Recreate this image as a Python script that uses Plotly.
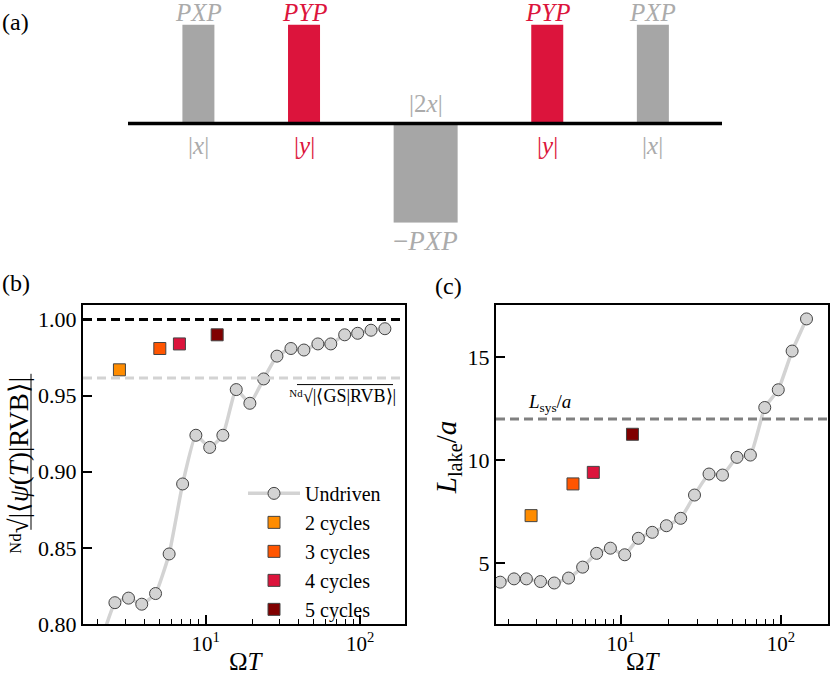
import plotly.graph_objects as go

# =============================
# DATA
# =============================
# panel (a): pulse sequence
pulse_pos = [2.2, 5.5, 9.3, 13.1, 16.4]
pulse_width = [1, 1, 2, 1, 1]
pulse_amp = [1, 1, -1, 1, 1]
pulse_colors = ["#A6A6A6", "#DC143C", "#A6A6A6", "#DC143C", "#A6A6A6"]
top_labels = ["<i>PXP</i>", "<i>PYP</i>", "\u2212<i>PXP</i>", "<i>PYP</i>", "<i>PXP</i>"]
low_labels = ["|<i>x</i>|", "|<i>y</i>|", "|2<i>x</i>|", "|<i>y</i>|", "|<i>x</i>|"]

# panels (b) and (c): undriven sweep
omega_T = [1.77, 2.16, 2.58, 3.16, 3.85, 4.73, 5.79, 7.08, 8.63, 10.6, 12.9, 15.75,
           19.3, 23.7, 28.9, 35.6, 43.2, 53.2, 64.5, 79.3, 96.3, 117.5, 144.5]
overlap_root = [0.775, 0.793, 0.814, 0.817, 0.813, 0.820, 0.846, 0.892, 0.924, 0.916,
                0.924, 0.954, 0.945, 0.961, 0.976, 0.981, 0.980, 0.984, 0.984, 0.990,
                0.991, 0.993, 0.994]
lake_len = [4.08, 4.24, 4.24, 4.11, 4.04, 4.28, 4.81, 5.48, 5.73, 5.41, 6.21, 6.50,
            6.82, 7.18, 8.31, 9.33, 9.28, 10.14, 10.25, 12.56, 13.42, 15.30, 16.86]

# driven protocols
cycle_names = ["2 cycles", "3 cycles", "4 cycles", "5 cycles"]
cycle_omega_T = [2.76, 5.04, 6.75, 11.85]
cycle_overlap = [0.967, 0.981, 0.984, 0.990]
cycle_lake = [7.31, 8.85, 9.41, 11.26]
cycle_colors = ["#FF8C00", "#FF5500", "#DC143C", "#800000"]

gs_overlap_root = 0.9616
L_sys = 12

FONT = "Liberation Serif"
W, H = 830, 688

fig = go.Figure()


def ann(x, y, text, size, angle=0, color="black", xanchor="center"):
    # x, y in pixels from the top-left corner
    fig.add_annotation(x=x / W, y=(H - y) / H, xref="paper", yref="paper", text=text,
                       showarrow=False, textangle=angle, xanchor=xanchor, yanchor="middle",
                       font=dict(size=size, family=FONT, color=color))


# =============================
# (a) PULSE SEQUENCE
# =============================
a_x0, a_x1, a_zero, a_scale = 128, 722, 126, 101
fig.add_trace(go.Bar(x=pulse_pos, y=pulse_amp, width=pulse_width,
                     marker=dict(color=pulse_colors, line_width=0),
                     xaxis="x3", yaxis="y3", showlegend=False, hoverinfo="skip"))
fig.add_shape(type="line", xref="x3", yref="y3", x0=0, x1=18.56, y0=0, y1=0,
              line=dict(color="black", width=3.5))

for i in range(len(pulse_pos)):
    col = "#ABABAB" if pulse_colors[i] == "#A6A6A6" else pulse_colors[i]
    px = a_x0 + pulse_pos[i] / 18.56 * (a_x1 - a_x0)
    if pulse_amp[i] > 0:
        ann(px, 13, top_labels[i], 25, color=col)
        ann(px, 148, low_labels[i], 25, color=col)
    else:
        ann(px, 106, low_labels[i], 25, color=col)
        ann(px, 246, top_labels[i], 27, color=col)

# =============================
# (b) OVERLAP PER DIMER
# =============================
fig.add_trace(go.Scatter(x=omega_T, y=overlap_root, mode="lines+markers", name="Undriven",
                         line=dict(color="#D3D3D3", width=3.5, shape="spline", smoothing=0.4),
                         marker=dict(size=12, color="#D3D3D3", line=dict(color="#444444", width=1)),
                         xaxis="x", yaxis="y", legendgroup="u"))
for i in range(len(cycle_names)):
    fig.add_trace(go.Scatter(x=[cycle_omega_T[i]], y=[cycle_overlap[i]], mode="markers",
                             name=cycle_names[i], legendgroup=cycle_names[i],
                             marker=dict(symbol="square", size=12, color=cycle_colors[i],
                                         line=dict(color="#444444", width=1)),
                             xaxis="x", yaxis="y"))

fig.add_shape(type="line", xref="x domain", yref="y", x0=0, x1=1, y0=1.0, y1=1.0,
              line=dict(color="black", width=3, dash="9px,5px"))
fig.add_shape(type="line", xref="x domain", yref="y", x0=0, x1=1,
              y0=gs_overlap_root, y1=gs_overlap_root,
              line=dict(color="#D3D3D3", width=3, dash="9px,5px"))

# =============================
# (c) LAKE SIZE
# =============================
fig.add_trace(go.Scatter(x=omega_T, y=lake_len, mode="lines+markers", showlegend=False,
                         line=dict(color="#D3D3D3", width=3.5, shape="spline", smoothing=0.4),
                         marker=dict(size=12, color="#D3D3D3", line=dict(color="#444444", width=1)),
                         xaxis="x2", yaxis="y2"))
for i in range(len(cycle_names)):
    fig.add_trace(go.Scatter(x=[cycle_omega_T[i]], y=[cycle_lake[i]], mode="markers",
                             showlegend=False,
                             marker=dict(symbol="square", size=12, color=cycle_colors[i],
                                         line=dict(color="#444444", width=1)),
                             xaxis="x2", yaxis="y2"))
fig.add_shape(type="line", xref="x2 domain", yref="y2", x0=0, x1=1, y0=L_sys, y1=L_sys,
              line=dict(color="#808080", width=3, dash="9px,5px"))

# =============================
# AXES
# =============================
minor_vals = [2, 3, 4, 5, 6, 7, 8, 9, 20, 30, 40, 50, 60, 70, 80, 90]
log_axis = dict(type="log", showgrid=False, zeroline=False, showline=True, mirror=True,
                linecolor="black", linewidth=2, ticks="inside", ticklen=9, tickwidth=1.5,
                tickcolor="black", tickvals=[10, 100],
                ticktext=["10<sup>1</sup>", "10<sup>2</sup>"],
                minor=dict(tickvals=minor_vals, ticks="inside", ticklen=5, tickwidth=1,
                           tickcolor="black", showgrid=False),
                tickfont=dict(size=21, family=FONT, color="black"))
lin_axis = dict(showgrid=False, zeroline=False, showline=True, mirror=True,
                linecolor="black", linewidth=2, ticks="inside", ticklen=9, tickwidth=1.5,
                tickcolor="black", tickfont=dict(size=22, family=FONT, color="black"))

y_top, y_bot = (H - 311) / H, (H - 636) / H
fig.update_layout(
    width=W, height=H, margin=dict(l=0, r=0, t=0, b=0),
    plot_bgcolor="white", paper_bgcolor="white",
    xaxis=dict(log_axis, domain=[83 / W, 405 / W], range=[0.205, 2.29], anchor="y"),
    yaxis=dict(lin_axis, domain=[y_bot, y_top], range=[0.80, 1.0095], anchor="x",
               tickvals=[0.80, 0.85, 0.90, 0.95, 1.00], tickformat=".2f"),
    xaxis2=dict(log_axis, domain=[496 / W, 828 / W], range=[0.222, 2.294], anchor="y2"),
    yaxis2=dict(lin_axis, domain=[y_bot, y_top], range=[2.05, 17.53], anchor="x2",
                tickvals=[5, 10, 15]),
    xaxis3=dict(domain=[a_x0 / W, a_x1 / W], range=[0, 18.56], visible=False, anchor="y3"),
    yaxis3=dict(domain=[(H - a_zero - a_scale) / H, (H - a_zero + a_scale) / H],
                range=[-1, 1], visible=False, anchor="x3"),
    showlegend=True,
    legend=dict(x=243 / W, y=(H - 483) / H, xanchor="left", yanchor="top",
                bgcolor="rgba(0,0,0,0)", font=dict(size=20, family=FONT, color="black"),
                tracegroupgap=0, itemwidth=52),
)

# =============================
# TEXT: titles, panel labels
# =============================
ann(0, 22, "(a)", 24, xanchor="left")
ann(0, 288, "(b)", 24, xanchor="left")
ann(433, 292, "(c)", 24, xanchor="left")

ann(246, 674, "\u03a9<i>T</i>", 25)
ann(643, 674, "\u03a9<i>T</i>", 25)

ann(19, 475, "\u1d3a\u1d48\u221a|\u27e8<i>\u03c8</i>(<i>T</i>)|RVB\u27e9|", 27, angle=-90)
ann(448, 467, "<i>L</i><sub>lake</sub>/<i>a</i>", 29, angle=-90)

ann(342, 404, "\u1d3a\u1d48\u221a|\u27e8GS|RVB\u27e9|", 18)
ann(549, 411, "<i>L</i><sub>sys</sub>/<i>a</i>", 19)

# overlines of the radicals
fig.add_shape(type="line", xref="paper", yref="paper", x0=31 / W, x1=31 / W,
              y0=(H - 381) / H, y1=(H - 540) / H, line=dict(color="black", width=1))
fig.add_shape(type="line", xref="paper", yref="paper", x0=297 / W, x1=393 / W,
              y0=(H - 392) / H, y1=(H - 392) / H, line=dict(color="black", width=1))

# page without body margin, so the figure sits at the window corner
fig.write_html("out.html", config={"displayModeBar": False},
               post_script="document.body.style.margin='0';")
